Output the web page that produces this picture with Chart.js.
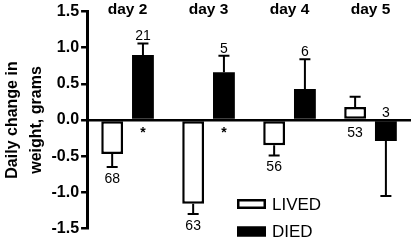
<!DOCTYPE html>
<html>
<head>
<meta charset="utf-8">
<script src="https://cdn.jsdelivr.net/npm/chart.js@4/dist/chart.umd.min.js"></script>
<style>
  body { margin: 0; background: #fff; }
  #wrap { width: 414px; height: 240px; }
</style>
</head>
<body>
<div id="wrap"><canvas id="chart" width="414" height="240"></canvas></div>
<script>
const days = ["day 2", "day 3", "day 4", "day 5"];
const lived = [-0.47, -1.16, -0.35, 0.18];
const livedErr = [0.18, 0.14, 0.14, 0.14];
const livedN = [68, 63, 56, 53];
const livedLabelAt = ["tip", "tip", "tip", "base"];
const died = [0.90, 0.66, 0.43, -0.29];
const diedErr = [0.16, 0.23, 0.41, 0.76];
const diedN = [21, 5, 6, 3];
const diedLabelAt = ["tip", "tip", "tip", "base"];
const diedMarks = ["*", "*", "", ""];
const yTitle = ["Daily change in", "weight, grams"];

const FONT = "'Liberation Sans', Arial, Helvetica, sans-serif";

// error bars, n labels, asterisks, day headers, legend
const extras = {
  id: "extras",
  afterDatasetsDraw(chart) {
    const ctx = chart.ctx;
    const y = chart.scales.y;
    const x = chart.scales.x;
    const zero = y.getPixelForValue(0);
    const errs = [livedErr, diedErr];
    const ns = [livedN, diedN];
    const at = [livedLabelAt, diedLabelAt];

    ctx.save();
    ctx.strokeStyle = "#000";
    ctx.fillStyle = "#000";
    ctx.lineWidth = 2;

    chart.data.datasets.forEach((ds, d) => {
      chart.getDatasetMeta(d).data.forEach((bar, i) => {
        const v = ds.data[i];
        const s = v < 0 ? -1 : 1;
        const end = y.getPixelForValue(v + s * errs[d][i]);
        ctx.beginPath();
        ctx.moveTo(bar.x, bar.y);
        ctx.lineTo(bar.x, end);
        ctx.moveTo(bar.x - 5.5, end);
        ctx.lineTo(bar.x + 5.5, end);
        ctx.stroke();

        // n label
        ctx.font = "14px " + FONT;
        ctx.textAlign = "center";
        ctx.textBaseline = "alphabetic";
        let ly;
        if (at[d][i] === "tip") {
          ly = s > 0 ? end - 3 : end + 16;
        } else {
          ly = s > 0 ? zero + 17 : zero - 3;
        }
        ctx.fillText(String(ns[d][i]), bar.x, ly);

        if (d === 1 && diedMarks[i]) {
          ctx.font = "bold 14px " + FONT;
          ctx.textBaseline = "top";
          ctx.fillText(diedMarks[i], bar.x, zero + 6.5);
        }
      });
    });

    // day headers
    ctx.font = "bold 15.5px " + FONT;
    ctx.textAlign = "center";
    ctx.textBaseline = "alphabetic";
    days.forEach((lab, i) => {
      ctx.fillText(lab, x.getPixelForValue(i), 14);
    });

    // legend
    ctx.font = "17px " + FONT;
    ctx.textAlign = "left";
    chart.data.datasets.forEach((ds, d) => {
      const top = 199 + d * 27.5;
      ctx.fillStyle = ds.backgroundColor;
      ctx.fillRect(237, top, 29, 10);
      ctx.lineWidth = 2.5;
      ctx.strokeStyle = "#000";
      ctx.strokeRect(238.25, top + 1.25, 26.5, 7.5);
      ctx.fillStyle = "#000";
      ctx.fillText(ds.label, 272, top + 10.5);
    });
    ctx.restore();
  }
};

new Chart(document.getElementById("chart"), {
  type: "bar",
  data: {
    labels: days,
    datasets: [
      { label: "LIVED", data: lived, backgroundColor: "#ffffff", borderColor: "#000000", borderWidth: 2.5, borderSkipped: false },
      { label: "DIED", data: died, backgroundColor: "#000000", borderColor: "#000000", borderWidth: 0 }
    ]
  },
  options: {
    responsive: false,
    animation: false,
    layout: { padding: { top: 5.5, bottom: 9, left: 0.5, right: 3 } },
    categoryPercentage: 0.76,
    barPercentage: 0.71,
    plugins: { legend: { display: false }, tooltip: { enabled: false } },
    scales: {
      x: { display: false },
      y: {
        min: -1.5,
        max: 1.5,
        ticks: {
          stepSize: 0.5,
          color: "#000",
          padding: 2,
          font: { family: FONT, size: 16, weight: "bold" },
          callback: (v) => v.toFixed(1)
        },
        grid: {
          color: (c) => (c.tick && c.tick.value === 0 ? "#000" : "transparent"),
          lineWidth: 2.5,
          tickColor: "#000",
          tickWidth: 2.5,
          tickLength: 6
        },
        border: { display: true, color: "#000", width: 3 },
        title: {
          display: true,
          text: yTitle,
          color: "#000",
          padding: { top: 0, bottom: 1 },
          font: { family: FONT, size: 16, weight: "bold", lineHeight: 1.5 }
        }
      }
    }
  },
  plugins: [extras]
});
</script>
</body>
</html>
